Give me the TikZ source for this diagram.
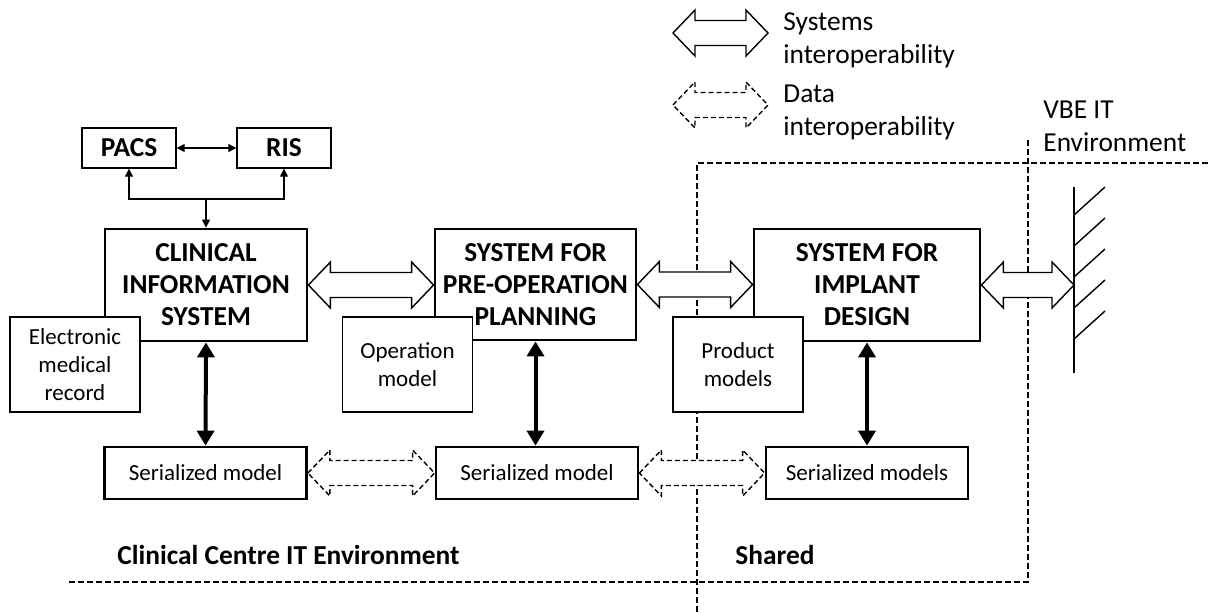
\documentclass[tikz,border=0pt]{standalone}
\usepackage{fontspec}
\setmainfont{Carlito}
\usetikzlibrary{calc,arrows.meta}
\tikzset{
  bigbox/.style = {draw, line width = 1.4pt, fill = white, align = center, inner sep = 0pt, font = \bfseries\fontsize{13.7}{16}\selectfont},
  notebox/.style = {draw, line width = .7pt, fill = white, align = center, inner sep = 0pt, minimum width = 65pt, minimum height = 47.5pt, font = \fontsize{11.5}{14}\selectfont},
  serbox/.style = {draw, line width = 1.4pt, fill = white, inner sep = 0pt, minimum width = 101pt, minimum height = 26pt, font = \fontsize{11.5}{14}\selectfont},
  smallbox/.style = {draw, line width = .7pt, fill = white, inner sep = 0pt, minimum width = 47pt, minimum height = 20pt, font = \bfseries\fontsize{13.7}{16}\selectfont},
  txt/.style = {align = left, inner sep = 0pt, font = \fontsize{13.7}{16.5}\selectfont},
  bound/.style = {dash pattern = on 3pt off 1.5pt, line width = .6pt},
  heavyarrow/.style = {line width = 2pt, >={Triangle[length = 7.5pt, width = 8.5pt]}, <->},
  sysarrow/.style = {line width = .7pt, fill = white},
  dataarrow/.style = {line width = .7pt, fill = white, dash pattern = on 2.5pt off 1.5pt}
}
% hollow double arrow between two points
\newcommand{\interop}[3][sysarrow]{%
  \draw[#1] let \p1 = (#2), \p2 = (#3) in (\x1,\y1) -- ++(11pt,11.5pt) -- ++(0,-5.25pt) -- (\x2-11pt,\y1+6.25pt) -- ++(0,5.25pt) -- (\x2,\y1) -- ++(-11pt,-11.5pt) -- ++(0,5.25pt) -- (\x1+11pt,\y1-6.25pt) -- ++(0,-5.25pt) -- cycle;}
\begin{document}
\begin{tikzpicture}[x = .5pt, y = -.5pt, >={Triangle[length = 4pt, width = 4pt]}]
    \useasboundingbox (0,0) rectangle (1208,612);
    \draw[bound] (697,612) -- (697,163) -- (1208,163); % Shared
    \draw[bound] (69,582) -- (1028,582) -- (1028,137); % VBE
    \coordinate (wtop) at (1074,187); \coordinate (wbot) at (1074,373); % wall
    \draw[line width = .7pt] (wtop) -- (wbot);
    \foreach \k in {0,...,4}{\draw[line width = .7pt] (1074,215+31*\k) -- ++(31,-28);}
    \node[smallbox] (pacs) at (129,148) {PACS};
    \node[smallbox] (ris) at (284,148) {RIS};
    \node[bigbox, minimum width = 101pt, minimum height = 56pt] (cis) at (206,285) {CLINICAL\\INFORMATION\\SYSTEM};
    \node[bigbox, minimum width = 100.5pt, minimum height = 55.5pt] (spop) at (535.5,284.5) {SYSTEM FOR\\PRE-OPERATION\\PLANNING};
    \node[bigbox, minimum width = 113pt, minimum height = 56pt] (sid) at (867,285) {SYSTEM FOR\\IMPLANT\\DESIGN};
    \node[notebox] (emr) at (75,364.5) {Electronic\\medical\\record};
    \node[notebox] (opm) at (407.5,364.5) {Operation\\model};
    \node[notebox] (prm) at (738,364.5) {Product\\models};
    \node[serbox] (ser1) at (205.5,473) {Serialized model};
    \node[serbox] (ser2) at (537,473) {Serialized model};
    \node[serbox] (ser3) at (867,473) {Serialized models};
    \draw[<->, line width = .6pt] (pacs.east) -- (ris.west);
    \coordinate (junc) at (206,199);
    \draw[<->, line width = .6pt] (pacs.south) -- (pacs.south |- junc) -- (ris.south |- junc) -- (ris.south);
    \draw[->, line width = .6pt] (junc) -- (cis.north);
    \draw[heavyarrow] (cis.south) -- (ser1.north);
    \draw[heavyarrow] (spop.south) -- (spop.south |- ser2.north);
    \draw[heavyarrow] (sid.south) -- (ser3.north);
    \interop{cis.east}{spop.west}
    \interop{spop.east}{sid.west}
    \interop{sid.east}{sid.east -| wtop}
    \interop[dataarrow]{ser1.east}{ser2.west}
    \interop[dataarrow]{ser2.east}{ser3.west}
    % legend
    \coordinate (sysA) at (673,33); \coordinate (sysB) at (768,33);
    \coordinate (datA) at (673,105); \coordinate (datB) at (768,105);
    \interop{sysA}{sysB}
    \interop[dataarrow]{datA}{datB}
    \node[txt, anchor = west] (systxt) at (783,40) {Systems\\interoperability};
    \node[txt, anchor = west] (datatxt) at (783,112.5) {Data\\interoperability};
    \node[txt, anchor = west] (vbe) at (1043,126.5) {VBE IT\\Environment};
    \node[txt, anchor = west, font = \bfseries\fontsize{13.7}{16.5}\selectfont] (cce) at (117,555) {Clinical Centre IT Environment};
    \node[txt, anchor = west, font = \bfseries\fontsize{13.7}{16.5}\selectfont] (shared) at (735,555) {Shared};
\end{tikzpicture}
\end{document}
